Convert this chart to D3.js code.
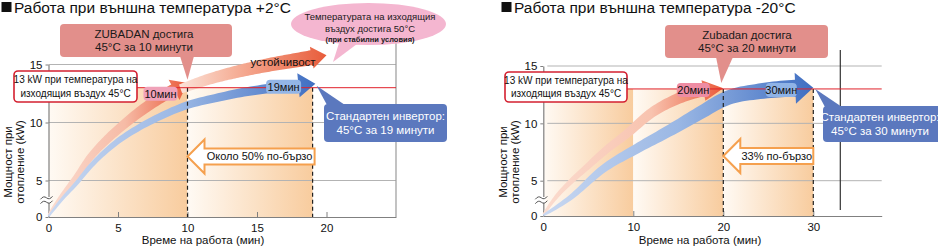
<!DOCTYPE html>
<html>
<head>
<meta charset="utf-8">
<script src="https://cdn.jsdelivr.net/npm/d3@7"></script>
<style>
body { margin: 0; background: #fff; }
svg { display: block; font-family: "Liberation Sans", Arial, sans-serif; }
</style>
</head>
<body>
<div id="chart"></div>
<script>
// ---- data ----
const yTicks = [0, 5, 10, 15];
const targetKw = 13;

// +2°C
const warmTitle = "Работа при външна температура +2°C";
const warmTicks = [0, 5, 10, 15, 20];
const warmMinutes = [10, 19];          // zubadan, standard inverter
const warmZubadan = [[0, 0.3], [1, 3], [2, 5.3], [3, 7], [4, 8.3], [5, 9.4], [6, 10.4], [7, 11.3], [8, 12.1], [9, 12.8], [10, 13.4]];
const warmStable = [[9.5, 12.9], [12, 13.9], [14, 14.5], [16, 15], [18, 15.4], [20, 15.8]];
const warmInverter = [[0, 0.1], [1, 2.5], [2, 4.6], [3, 6.2], [4, 7.4], [5, 8.4], [6, 9.2], [8, 10.5], [10, 11.5], [12, 12.1], [14, 12.6], [16, 12.95], [19.2, 13.35]];

// -20°C
const coldTitle = "Работа при външна температура -20°C";
const coldTicks = [0, 10, 20, 30];
const coldMinutes = [20, 30];
const coldZubadan = [[0, 0.2], [1.5, 2.8], [3, 4.8], [5, 6.3], [6.7, 7.5], [9.3, 9.1], [12, 10.9], [14.8, 12.1], [17.4, 12.8], [20, 13.05]];
const coldInverter = [[0, 0.1], [3, 2.6], [6.6, 6], [10.4, 7.8], [14.1, 9.4], [17.4, 10.9], [20.4, 12.2], [24.1, 12.8], [27.7, 13.05], [30, 13.1]];

// ---- svg ----
const svg = d3.select("#chart").append("svg")
    .attr("width", 938)
    .attr("height", 247);
const defs = svg.append("defs");

const shade = defs.append("linearGradient").attr("id", "shade");
shade.append("stop").attr("offset", 0).attr("stop-color", "#fffaf4");
shade.append("stop").attr("offset", 1).attr("stop-color", "#f8cc9e");

const redStops = [[0, "#fbdcd0"], [0.55, "#f6bba6"], [1, "#ea5a3a"]];
const blueStops = [[0, "#c9d8f1"], [0.5, "#9ab7e4"], [1, "#3f6ec2"]];

// thick curved arrow built around a line through the points
function arrowBand(g, pts, x, y, o) {
    const line = d3.line().x(d => x(d[0])).y(d => y(d[1])).curve(d3.curveMonotoneX);
    const probe = g.append("path").attr("d", line(pts)).attr("fill", "none");
    const node = probe.node();
    const L = node.getTotalLength();
    const end = L - o.head;
    const pt = s => {
        const p = node.getPointAtLength(Math.max(0, Math.min(L, s)));
        return [p.x, p.y];
    };
    const normal = s => {
        const a = pt(s - 0.5), b = pt(s + 0.5);
        const dx = b[0] - a[0], dy = b[1] - a[1], len = Math.hypot(dx, dy) || 1;
        return [-dy / len, dx / len];
    };
    const side1 = [], side2 = [];
    const n = 80;
    for (let i = 0; i <= n; i++) {
        const s = end * i / n;
        const w = (o.w0 + (o.w1 - o.w0) * Math.pow(i / n, 0.7)) / 2;
        const c = pt(s), nv = normal(s);
        side1.push([c[0] + nv[0] * w, c[1] + nv[1] * w]);
        side2.push([c[0] - nv[0] * w, c[1] - nv[1] * w]);
    }
    const c = pt(end), nv = normal(end), tip = pt(L);
    const poly = side1.concat(
        [[c[0] + nv[0] * o.hw, c[1] + nv[1] * o.hw], tip, [c[0] - nv[0] * o.hw, c[1] - nv[1] * o.hw]],
        side2.reverse());
    probe.remove();

    const grad = defs.append("linearGradient")
        .attr("id", o.id)
        .attr("gradientUnits", "userSpaceOnUse")
        .attr("x1", x(pts[0][0])).attr("x2", tip[0])
        .attr("y1", 0).attr("y2", 0);
    o.stops.forEach(([off, col]) => grad.append("stop").attr("offset", off).attr("stop-color", col));

    g.append("path")
        .attr("d", "M" + poly.map(p => p.join(",")).join("L") + "Z")
        .attr("fill", `url(#${o.id})`);
}

function multiText(g, lines, cx, cy, size, lh, color, weight) {
    const t = g.append("text")
        .attr("text-anchor", "middle")
        .attr("font-size", size)
        .attr("fill", color)
        .attr("font-weight", weight || "normal");
    lines.forEach((s, i) => {
        t.append("tspan")
            .attr("x", cx)
            .attr("y", cy + (i - (lines.length - 1) / 2) * lh)
            .attr("dy", "0.35em")
            .text(s);
    });
    return t;
}

function pill(g, label, cx, cy, w, fill) {
    g.append("rect")
        .attr("x", cx - w / 2).attr("y", cy - 7)
        .attr("width", w).attr("height", 14)
        .attr("rx", 4)
        .attr("fill", fill);
    g.append("text")
        .attr("x", cx).attr("y", cy).attr("dy", "0.35em")
        .attr("text-anchor", "middle")
        .attr("font-size", 11)
        .attr("fill", "#111")
        .text(label);
}

function fasterArrow(g, label, xTip, xEnd, yc) {
    const hl = 17, hh = 17, bh = 8;
    const p = [[xTip, yc], [xTip + hl, yc - hh], [xTip + hl, yc - bh], [xEnd, yc - bh],
        [xEnd, yc + bh], [xTip + hl, yc + bh], [xTip + hl, yc + hh]];
    g.append("path")
        .attr("d", "M" + p.map(d => d.join(",")).join("L") + "Z")
        .attr("fill", "#fff")
        .attr("stroke", "#f5a04e")
        .attr("stroke-width", 2)
        .attr("stroke-linejoin", "miter");
    g.append("text")
        .attr("x", (xTip + hl + xEnd) / 2).attr("y", yc).attr("dy", "0.35em")
        .attr("text-anchor", "middle")
        .attr("font-size", 11)
        .attr("fill", "#111")
        .text(label);
}

function panel(p) {
    const x = d3.scaleLinear().domain([0, p.xMax]).range([p.left, p.right]);
    const y = d3.scaleLinear().domain([0, 5, 15]).range(p.yRange);
    const g = svg.append("g");

    // title with square bullet
    g.append("rect")
        .attr("x", p.titleX + 1.5).attr("y", 2)
        .attr("width", 10).attr("height", 10)
        .attr("fill", "#111");
    g.append("text")
        .attr("x", p.titleX + 14).attr("y", 13)
        .attr("font-size", 15.5)
        .attr("fill", "#111")
        .text(p.title);

    // shaded columns up to 13 kW
    g.selectAll("rect.shade")
        .data(d3.pairs([0, ...p.shadeEnds]))
        .join("rect")
        .attr("class", "shade")
        .attr("x", d => x(d[0]))
        .attr("width", d => x(d[1]) - x(d[0]))
        .attr("y", y(targetKw))
        .attr("height", y(0) - y(targetKw))
        .attr("fill", "url(#shade)");

    // grid
    g.selectAll("line.grid")
        .data(yTicks.slice(1))
        .join("line")
        .attr("class", "grid")
        .attr("x1", x(0) + p.gridInset).attr("x2", x(p.xMax))
        .attr("y1", d => y(d)).attr("y2", d => y(d))
        .attr("stroke", "#b3b3b3");

    // vertical frame line
    g.append("line")
        .attr("x1", x(p.frameX)).attr("x2", x(p.frameX))
        .attr("y1", p.frameTop).attr("y2", p.frameBottom)
        .attr("stroke", p.frameColor)
        .attr("stroke-width", 1.2);

    // axes
    const xAxis = g.append("g")
        .attr("transform", `translate(0,${y(0)})`)
        .call(d3.axisBottom(x).tickValues(p.ticks).tickSizeInner(-5).tickSizeOuter(0).tickPadding(7));
    const yAxis = g.append("g")
        .attr("transform", `translate(${x(0)},0)`)
        .call(d3.axisLeft(y).tickValues(yTicks).tickSizeInner(3).tickSizeOuter(0).tickPadding(3));
    [xAxis, yAxis].forEach(a => {
        a.attr("font-family", null).attr("font-size", 11.5);
        a.selectAll("path.domain").attr("stroke", "#808080").attr("stroke-width", 1.2);
        a.selectAll(".tick line").attr("stroke", "#808080");
        a.selectAll(".tick text").attr("fill", "#111");
    });

    // axis break
    const by = p.breakY, bx = x(0);
    g.append("rect").attr("x", bx - 2).attr("y", by - 3).attr("width", 4).attr("height", 6).attr("fill", "#fff");
    [-2.2, 2.2].forEach(o => {
        g.append("path")
            .attr("d", `M${bx - 8},${by + o + 1.5} q3,-4 6,-1.5 t6,-1.5`)
            .attr("fill", "none")
            .attr("stroke", "#555")
            .attr("stroke-width", 1);
    });

    // axis titles
    g.append("text")
        .attr("x", p.xTitleX).attr("y", 244)
        .attr("text-anchor", "middle")
        .attr("font-size", 11.5)
        .attr("fill", "#111")
        .text("Време на работа (мин)");
    ["Мощност при", "отопление (kW)"].forEach((s, i) => {
        g.append("text")
            .attr("transform", `translate(${p.yTitleX + i * 12},162) rotate(-90)`)
            .attr("text-anchor", "middle")
            .attr("dy", "0.35em")
            .attr("font-size", 11.5)
            .attr("fill", "#111")
            .text(s);
    });

    return { g, x, y };
}

// ---- left panel: +2°C ----
{
    const { g, x, y } = panel({
        title: warmTitle, titleX: 0, ticks: warmTicks, xMax: 25,
        left: 48.5, right: 396, yRange: [217, 180.5, 64.5],
        shadeEnds: warmMinutes, gridInset: 0,
        frameX: 25, frameTop: 43, frameBottom: 217, frameColor: "#9a9a9a",
        breakY: 200, xTitleX: 203, yTitleX: 8
    });
    const ky = y(targetKw);

    arrowBand(g, warmZubadan, x, y, { id: "wz", w0: 2, w1: 12, head: 15, hw: 11.5, stops: redStops });
    arrowBand(g, warmStable, x, y, { id: "ws", w0: 9, w1: 15, head: 15, hw: 11, stops: [[0, "#fbe2d8"], [0.35, "#f6b39c"], [1, "#e85c3b"]] });
    arrowBand(g, warmInverter, x, y, { id: "wi", w0: 2, w1: 10, head: 17, hw: 12, stops: blueStops });

    // dashed markers
    g.selectAll("line.dash").data(warmMinutes).join("line")
        .attr("class", "dash")
        .attr("x1", d => x(d)).attr("x2", d => x(d))
        .attr("y1", ky).attr("y2", y(0))
        .attr("stroke", "#222").attr("stroke-width", 1.2).attr("stroke-dasharray", "4,3");

    // 13 kW line and label
    g.append("line").attr("x1", 137).attr("x2", x(25)).attr("y1", ky).attr("y2", ky)
        .attr("stroke", "#e0202a").attr("stroke-width", 1);
    g.append("rect").attr("x", 14).attr("y", 71).attr("width", 123).attr("height", 31).attr("rx", 4)
        .attr("fill", "#fff").attr("stroke", "#d42030").attr("stroke-width", 1.6);
    multiText(g, ["13 kW при температура на", "изходящия въздух 45°C"], 75.5, 86.5, 10, 13.5, "#111");

    pill(g, "10мин", x(warmMinutes[0]) - 27, ky + 6, 34, "#f0a2b9");
    pill(g, "19мин", x(warmMinutes[1]) - 29, ky - 1, 35, "#93b5e6");
    g.append("text").attr("x", 283).attr("y", 62).attr("dy", "0.35em")
        .attr("text-anchor", "middle").attr("font-size", 11.5).attr("fill", "#111")
        .text("устойчивост");

    // Zubadan callout
    g.append("path")
        .attr("d", `M180,56 L${x(warmMinutes[0])},${ky - 8} L194,56 Z`)
        .attr("fill", "#e28f8b");
    g.append("rect").attr("x", 60).attr("y", 24).attr("width", 172).attr("height", 33).attr("rx", 4)
        .attr("fill", "#e28f8b");
    multiText(g, ["ZUBADAN достига", "45°C за 10 минути"], 144, 40.5, 11.5, 13.5, "#1a1a1a");

    // stable temperature ellipse
    g.append("path").attr("d", "M340,40 L333,62 L357,44 Z").attr("fill", "#f4b6d0");
    g.append("ellipse").attr("cx", 368.5).attr("cy", 24).attr("rx", 77.5).attr("ry", 21)
        .attr("fill", "#f4b6d0");
    multiText(g, ["Температурата на изходящия", "въздух достига 50°C"], 370, 23, 9.5, 12, "#1a1a1a");
    multiText(g, ["(при стабилни условия)"], 370, 39, 7.5, 10, "#1a1a1a", "bold");

    // standard inverter callout
    g.append("path")
        .attr("d", `M327,105 L${x(warmMinutes[1]) + 4},${ky - 2} L345,105 Z`)
        .attr("fill", "#5b78be");
    g.append("rect").attr("x", 324).attr("y", 104).attr("width", 123).attr("height", 38).attr("rx", 4)
        .attr("fill", "#5b78be");
    multiText(g, ["Стандартен инвертор:", "45°C за 19 минути"], 385.5, 123, 11.5, 13.5, "#fff");

    fasterArrow(g, "Около 50% по-бързо", x(warmMinutes[0]), x(warmMinutes[1]) + 2, 156.5);
}

// ---- right panel: -20°C ----
{
    const { g, x, y } = panel({
        title: coldTitle, titleX: 500, ticks: coldTicks, xMax: 37.6,
        left: 543.3, right: 881.7, yRange: [216, 180.7, 66],
        shadeEnds: [10, ...coldMinutes], gridInset: 4,
        frameX: 33, frameTop: 50, frameBottom: 210, frameColor: "#333",
        breakY: 200, xTitleX: 700, yTitleX: 503
    });
    const ky = y(targetKw);

    arrowBand(g, coldZubadan, x, y, { id: "cz", w0: 2, w1: 12, head: 20, hw: 10.5, stops: [[0, "#fbdccf"], [0.6, "#f8c3af"], [1, "#ea5a3a"]] });
    arrowBand(g, coldInverter, x, y, { id: "ci", w0: 2, w1: 17, head: 18, hw: 15.5, stops: blueStops });

    g.selectAll("line.dash").data(coldMinutes).join("line")
        .attr("class", "dash")
        .attr("x1", d => x(d)).attr("x2", d => x(d))
        .attr("y1", ky).attr("y2", y(0))
        .attr("stroke", "#222").attr("stroke-width", 1.2).attr("stroke-dasharray", "4,3");

    g.append("line").attr("x1", 627).attr("x2", x(37.6)).attr("y1", ky).attr("y2", ky)
        .attr("stroke", "#e0202a").attr("stroke-width", 1);
    g.append("rect").attr("x", 505).attr("y", 72).attr("width", 122).attr("height", 30).attr("rx", 4)
        .attr("fill", "#fff").attr("stroke", "#d42030").attr("stroke-width", 1.6);
    multiText(g, ["13 kW при температура на", "изходящия въздух 45°C"], 566, 87, 10, 13.5, "#111");

    pill(g, "20мин", x(coldMinutes[0]) - 30, ky + 1, 33, "#ee8ca3");
    pill(g, "30мин", x(coldMinutes[1]) - 32, ky + 1, 31, "#8fb3e6");

    // Zubadan callout
    g.append("path")
        .attr("d", `M716,57 L${x(coldMinutes[0]) - 2},${ky - 6} L733,57 Z`)
        .attr("fill", "#e28f8b");
    g.append("rect").attr("x", 665).attr("y", 25).attr("width", 163).attr("height", 33).attr("rx", 4)
        .attr("fill", "#e28f8b");
    multiText(g, ["Zubadan достига", "45°C за 20 минути"], 747, 41, 11.5, 13, "#1a1a1a");

    // standard inverter callout
    g.append("path")
        .attr("d", `M825,107 L${x(coldMinutes[1]) + 2},${ky} L842,107 Z`)
        .attr("fill", "#5b78be");
    g.append("rect").attr("x", 823).attr("y", 106).attr("width", 118).attr("height", 36).attr("rx", 4)
        .attr("fill", "#5b78be");
    multiText(g, ["Стандартен инвертор:", "45°C за 30 минути"], 880, 124, 11.5, 13.5, "#fff");

    fasterArrow(g, "33% по-бързо", x(coldMinutes[0]), x(coldMinutes[1]), 156);
}
</script>
</body>
</html>
